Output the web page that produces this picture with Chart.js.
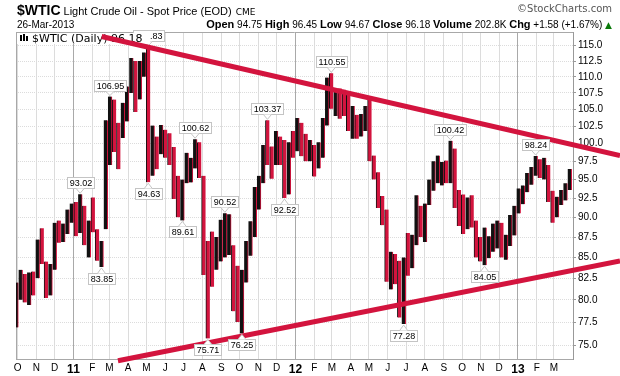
<!DOCTYPE html>
<html>
<head>
<meta charset="utf-8">
<script src="https://cdn.jsdelivr.net/npm/chart.js@4.4.1/dist/chart.umd.min.js"></script>
<style>
  html, body { margin: 0; padding: 0; background: #fff; }
  #wrap { width: 620px; height: 376px; }
</style>
</head>
<body>
<div id="wrap"><canvas id="chart" width="620" height="376"></canvas></div>
<script>
// x axis: month start labels, Oct 2010 .. Mar 2013
const monthLabels = ['O','N','D','11','F','M','A','M','J','J','A','S','O','N','D','12','F','M','A','M','J','J','A','S','O','N','D','13','F','M'];
const priceTicks = [75, 77.5, 80, 82.5, 85, 87.5, 90, 92.5, 95, 97.5, 100, 102.5, 105, 107.5, 110, 112.5, 115];

// weekly bars (week ending Friday, first week ends 1-Oct-2010)
const weeklyHigh = [
  82.0, 83.5, 83.0, 83.2, 83.3, 87.2, 88.6, 84.5, 84.2, 89.3, 89.6, 89.2, 91.0, 91.8, 92.0, 93.02,
  91.5, 89.6, 92.6, 88.5, 87.0, 103.4, 106.95, 106.5, 103.0, 106.0, 108.5, 113.0, 112.5, 112.5, 113.9, 114.83,
  102.6, 101.0, 102.7, 102.0, 101.5, 99.5, 95.5, 95.0, 98.7, 98.0, 100.62, 100.2, 95.5, 87.0, 88.2, 87.5,
  89.7, 90.52, 90.4, 86.5, 84.0, 83.5, 87.0, 89.5, 94.0, 95.5, 99.8, 103.37, 99.6, 101.8, 101.0, 100.5,
  100.2, 101.8, 103.7, 103.0, 101.4, 100.5, 99.8, 100.2, 103.7, 109.9, 110.55, 108.0, 108.2, 108.0, 107.8, 105.5,
  104.2, 104.3, 105.5, 106.4, 98.3, 96.0, 92.8, 91.0, 85.7, 85.4, 84.6, 85.0, 88.0, 87.8, 92.9, 91.5,
  91.8, 95.0, 97.5, 98.3, 97.4, 97.6, 100.42, 99.3, 93.6, 93.0, 92.6, 92.9, 89.6, 87.5, 88.7, 87.6,
  89.2, 89.6, 89.3, 87.8, 90.3, 91.5, 93.8, 94.2, 95.9, 96.7, 98.24, 97.8, 98.0, 97.0, 93.5, 92.7,
  93.6, 94.5, 96.45
];
const weeklyLow = [
  76.9, 80.0, 79.7, 79.4, 80.5, 82.5, 84.2, 80.2, 80.5, 83.5, 86.8, 86.9, 87.9, 89.3, 87.6, 88.0,
  86.5, 85.0, 88.1, 84.6, 83.85, 88.5, 97.0, 98.8, 96.4, 100.8, 103.2, 107.5, 104.6, 106.5, 110.0, 94.63,
  95.5, 96.4, 98.5, 98.0, 97.0, 92.4, 90.0, 89.61, 94.5, 94.6, 96.5, 95.2, 82.9, 75.71, 81.5, 83.5,
  84.5, 85.0, 85.3, 78.7, 77.5, 76.25, 82.0, 85.2, 87.5, 91.0, 94.5, 97.0, 95.1, 97.0, 97.0, 92.52,
  93.0, 98.0, 98.9, 98.2, 97.5, 97.5, 95.4, 96.5, 98.0, 102.6, 105.1, 104.0, 103.6, 104.0, 101.8, 100.7,
  100.7, 101.0, 101.8, 97.5, 95.0, 91.2, 89.0, 82.1, 81.2, 81.8, 78.0, 77.28, 82.8, 83.7, 86.5, 87.5,
  86.9, 91.6, 93.5, 94.5, 94.2, 94.5, 94.5, 91.2, 88.9, 87.9, 88.5, 88.7, 85.0, 84.5, 84.05, 84.9,
  85.7, 86.1, 85.0, 84.7, 86.4, 87.7, 90.5, 91.7, 93.3, 94.3, 95.5, 95.2, 95.0, 92.0, 89.3, 90.0,
  91.6, 92.2, 93.6
];
const weeklyClose = [
  81.5, 82.7, 81.2, 81.7, 81.4, 86.8, 84.9, 81.5, 83.8, 89.2, 87.8, 88.0, 90.8, 91.4, 88.0, 91.5,
  88.9, 89.3, 89.0, 85.6, 86.2, 97.9, 104.4, 101.2, 101.1, 105.4, 107.9, 112.8, 109.7, 112.3, 113.9, 97.2,
  99.6, 99.5, 100.6, 100.2, 99.3, 93.0, 91.2, 94.9, 96.2, 97.2, 99.9, 95.7, 86.9, 85.4, 82.3, 85.4,
  86.5, 87.2, 88.0, 79.9, 79.2, 83.0, 86.8, 87.4, 93.3, 94.3, 99.0, 97.4, 96.8, 101.0, 99.4, 93.5,
  99.7, 98.8, 101.6, 98.7, 98.5, 99.6, 97.8, 98.7, 103.2, 109.8, 106.7, 107.4, 107.1, 106.9, 103.0, 103.3,
  102.8, 103.1, 104.9, 98.5, 96.1, 91.5, 90.9, 83.2, 84.1, 84.0, 79.8, 85.0, 84.5, 87.1, 91.4, 90.1,
  91.4, 93.6, 96.0, 96.2, 96.5, 96.4, 99.0, 92.9, 92.2, 89.9, 91.9, 90.0, 86.3, 84.9, 86.1, 86.9,
  88.3, 88.9, 85.9, 86.7, 88.7, 90.8, 93.1, 93.6, 95.6, 95.9, 97.8, 95.7, 95.9, 93.1, 90.7, 92.0,
  93.5, 93.7, 96.18
];

// marked highs / lows
const annoWeek  = [15, 20, 22, 31, 39, 42, 45, 49, 53, 59, 63, 74, 91, 102, 110, 122];
const annoPrice = [93.02, 83.85, 106.95, 94.63, 89.61, 100.62, 75.71, 90.52, 76.25, 103.37, 92.52, 110.55, 77.28, 100.42, 84.05, 98.24];
const annoSide  = ['up','down','up','down','down','up','down','up','down','up','down','up','down','up','down','up'];

// trend lines (days from 1-Oct-2010, price)
const upperTrendDays = [138.4, 990.8];
const upperTrendPrices = [116.52, 98.31];
const lowerTrendDays = [165.2, 990.8];
const lowerTrendPrices = [73.33, 84.56];

const RED = '#d3143e';
const BLACK = '#111';
const DAY = 86400000;
const origin = Date.UTC(2010, 9, 1);
const monthDays = monthLabels.map((_, i) => (Date.UTC(2010, 9 + i, 1) - origin) / DAY);
const weekDays = weeklyHigh.map((_, i) => 7 * i - 2);
const isYear = (lbl) => /^\d+$/.test(lbl);
const isDown = weeklyClose.map((c, i) => i > 0 && c < weeklyClose[i - 1]);

const drawLabelBox = (ctx, text, cx, py, side) => {
    ctx.font = '9px "Liberation Sans", Arial';
    const w = Math.round(ctx.measureText(text).width) + 4;
    const h = 11;
    const left = Math.round(cx - w / 2) + 0.5;
    const top = side === 'up' ? Math.round(py - 6 - h) + 0.5 : Math.round(py + 6) + 0.5;
    ctx.fillStyle = '#fff';
    ctx.strokeStyle = '#c4c4c4';
    ctx.lineWidth = 1;
    ctx.fillRect(left, top, w, h);
    ctx.strokeRect(left, top, w, h);
    // little pointer
    ctx.beginPath();
    if (side === 'up') {
        ctx.moveTo(cx - 4, top + h);
        ctx.lineTo(cx, py - 1);
        ctx.lineTo(cx + 4, top + h);
    } else {
        ctx.moveTo(cx - 4, top);
        ctx.lineTo(cx, py + 1);
        ctx.lineTo(cx + 4, top);
    }
    ctx.fill();
    ctx.stroke();
    ctx.fillStyle = '#000';
    ctx.textAlign = 'center';
    ctx.textBaseline = 'middle';
    ctx.fillText(text, left + w / 2, top + h / 2 + 0.5);
};

const textPlugin = {
    id: 'texts',
    beforeDatasetsDraw(chart) {
        const ctx = chart.ctx;
        const xs = chart.scales.x, ys = chart.scales.y;
        const area = chart.chartArea;
        ctx.save();
        // plot frame
        ctx.strokeStyle = '#a8a8a8';
        ctx.lineWidth = 1;
        ctx.beginPath();
        ctx.moveTo(area.left + 0.5, area.top + 0.5);
        ctx.lineTo(area.left + 0.5, area.bottom + 0.5);
        ctx.moveTo(area.left, area.top + 0.5);
        ctx.lineTo(area.right, area.top + 0.5);
        ctx.stroke();
        // peak label partly hidden behind legend
        drawLabelBox(ctx, '114.83', xs.getPixelForValue(weekDays[31]), ys.getPixelForValue(114.83), 'up');
        // legend
        ctx.fillStyle = '#fff';
        ctx.fillRect(area.left + 1, area.top + 1, 133, 11);
        ctx.fillStyle = '#000';
        ctx.fillRect(20, 35, 2, 6);
        ctx.fillRect(23, 34, 2, 7);
        ctx.fillRect(26, 36, 2, 5);
        ctx.font = '11px "DejaVu Sans", Verdana';
        ctx.textAlign = 'left';
        ctx.textBaseline = 'alphabetic';
        ctx.fillText('$WTIC (Daily) 96.18', 32, 42);
        ctx.restore();
    },
    afterDatasetsDraw(chart) {
        const ctx = chart.ctx;
        const xs = chart.scales.x, ys = chart.scales.y;
        ctx.save();
        annoWeek.forEach((w, i) => {
            drawLabelBox(ctx, annoPrice[i].toFixed(2), xs.getPixelForValue(weekDays[w]), ys.getPixelForValue(annoPrice[i]), annoSide[i]);
        });
        ctx.restore();
    },
    afterDraw(chart) {
        const ctx = chart.ctx;
        ctx.save();
        ctx.textBaseline = 'alphabetic';
        ctx.textAlign = 'left';
        ctx.fillStyle = '#000';
        ctx.font = 'bold 14px "Liberation Sans", Arial';
        ctx.fillText('$WTIC', 17, 15);
        let x = 17 + ctx.measureText('$WTIC').width + 3;
        ctx.font = '11px "Liberation Sans", Arial';
        ctx.fillText('Light Crude Oil - Spot Price (EOD)', x, 15);
        x += ctx.measureText('Light Crude Oil - Spot Price (EOD)').width + 4;
        ctx.font = '9px "DejaVu Sans", Verdana';
        ctx.fillText('CME', x, 15);

        ctx.font = '10px "DejaVu Sans", Verdana';
        ctx.fillStyle = '#555';
        ctx.textAlign = 'right';
        ctx.fillText('\u00a9StockCharts.com', 612, 12);

        ctx.textAlign = 'left';
        ctx.fillStyle = '#000';
        ctx.font = '10px "Liberation Sans", Arial';
        ctx.fillText('26-Mar-2013', 17, 28);

        const parts = [
            ['Open', true], [' 94.75 ', false], ['High', true], [' 96.45 ', false], ['Low', true], [' 94.67 ', false],
            ['Close', true], [' 96.18 ', false], ['Volume', true], [' 202.8K ', false], ['Chg', true], [' +1.58 (+1.67%) ', false]
        ];
        const fontOf = (b) => b ? 'bold 11px "Liberation Sans", Arial' : '10px "Liberation Sans", Arial';
        let total = 0;
        parts.forEach(([t, b]) => { ctx.font = fontOf(b); total += ctx.measureText(t).width; });
        ctx.font = '9px "DejaVu Sans"';
        total += ctx.measureText('\u25b2').width;
        x = 612 - total;
        parts.forEach(([t, b]) => { ctx.font = fontOf(b); ctx.fillText(t, x, 28); x += ctx.measureText(t).width; });
        ctx.font = '9px "DejaVu Sans"';
        ctx.fillStyle = '#0a7a0a';
        ctx.fillText('\u25b2', x, 28);
        ctx.restore();
    }
};

new Chart(document.getElementById('chart'), {
    type: 'bar',
    data: {
        datasets: [
            {
                type: 'line',
                data: upperTrendDays.map((d, i) => ({ x: d, y: upperTrendPrices[i] })),
                borderColor: RED,
                borderWidth: 5,
                pointRadius: 0,
                clip: false,
                order: 0,
            },
            {
                type: 'line',
                data: lowerTrendDays.map((d, i) => ({ x: d, y: lowerTrendPrices[i] })),
                borderColor: RED,
                borderWidth: 5,
                pointRadius: 0,
                clip: false,
                order: 0,
            },
            {
                data: weekDays.map((d, i) => ({ x: d, y: [weeklyLow[i], weeklyHigh[i]] })),
                // daily bars mix both colours, so each weekly bar gets a thin edge of the other one
                backgroundColor: isDown.map(d => d ? RED : BLACK),
                borderColor: isDown.map(d => d ? BLACK : RED),
                borderWidth: isDown.map(d => d ? { left: 1, right: 0, top: 0, bottom: 0 } : { left: 0, right: 1, top: 0, bottom: 0 }),
                borderSkipped: false,
                barThickness: 4,
                order: 1,
            },
        ],
    },
    options: {
        responsive: false,
        animation: false,
        devicePixelRatio: 1,
        layout: { padding: { left: 16, top: 32, right: 0, bottom: 0 } },
        plugins: { legend: { display: false }, tooltip: { enabled: false } },
        scales: {
            x: {
                type: 'linear',
                min: -2.5,
                max: 913.5,
                offset: false,
                afterBuildTicks: (scale) => { scale.ticks = monthDays.map(v => ({ value: v })); },
                afterFit: (scale) => { scale.height = 17; },
                grid: {
                    offset: false,
                    drawTicks: false,
                    color: (c) => (c.tick && isYear(monthLabels[c.index])) ? '#a9a9a9' : '#dcdcdc',
                },
                border: { display: true, color: '#a8a8a8' },
                ticks: {
                    autoSkip: false,
                    maxRotation: 0,
                    padding: 3,
                    color: '#000',
                    font: (c) => (c.tick && isYear(monthLabels[c.index]))
                        ? { family: '"Liberation Sans", Arial', size: 12, weight: 'bold' }
                        : { family: '"Liberation Sans", Arial', size: 10 },
                    callback: (v, i) => monthLabels[i],
                },
            },
            y: {
                type: 'logarithmic',
                position: 'right',
                min: 73.52,
                max: 117.27,
                afterBuildTicks: (scale) => { scale.ticks = priceTicks.map(v => ({ value: v })); },
                afterFit: (scale) => { scale.width = 47; },
                grid: { color: '#dcdcdc', tickLength: 3, tickColor: '#999' },
                border: { display: true, color: '#999', dash: [1, 1] },
                ticks: {
                    padding: 2,
                    color: '#000',
                    font: { family: '"Liberation Sans", Arial', size: 10 },
                    callback: (v) => Number(v).toFixed(1),
                },
            },
        },
    },
    plugins: [textPlugin],
});
</script>
</body>
</html>
